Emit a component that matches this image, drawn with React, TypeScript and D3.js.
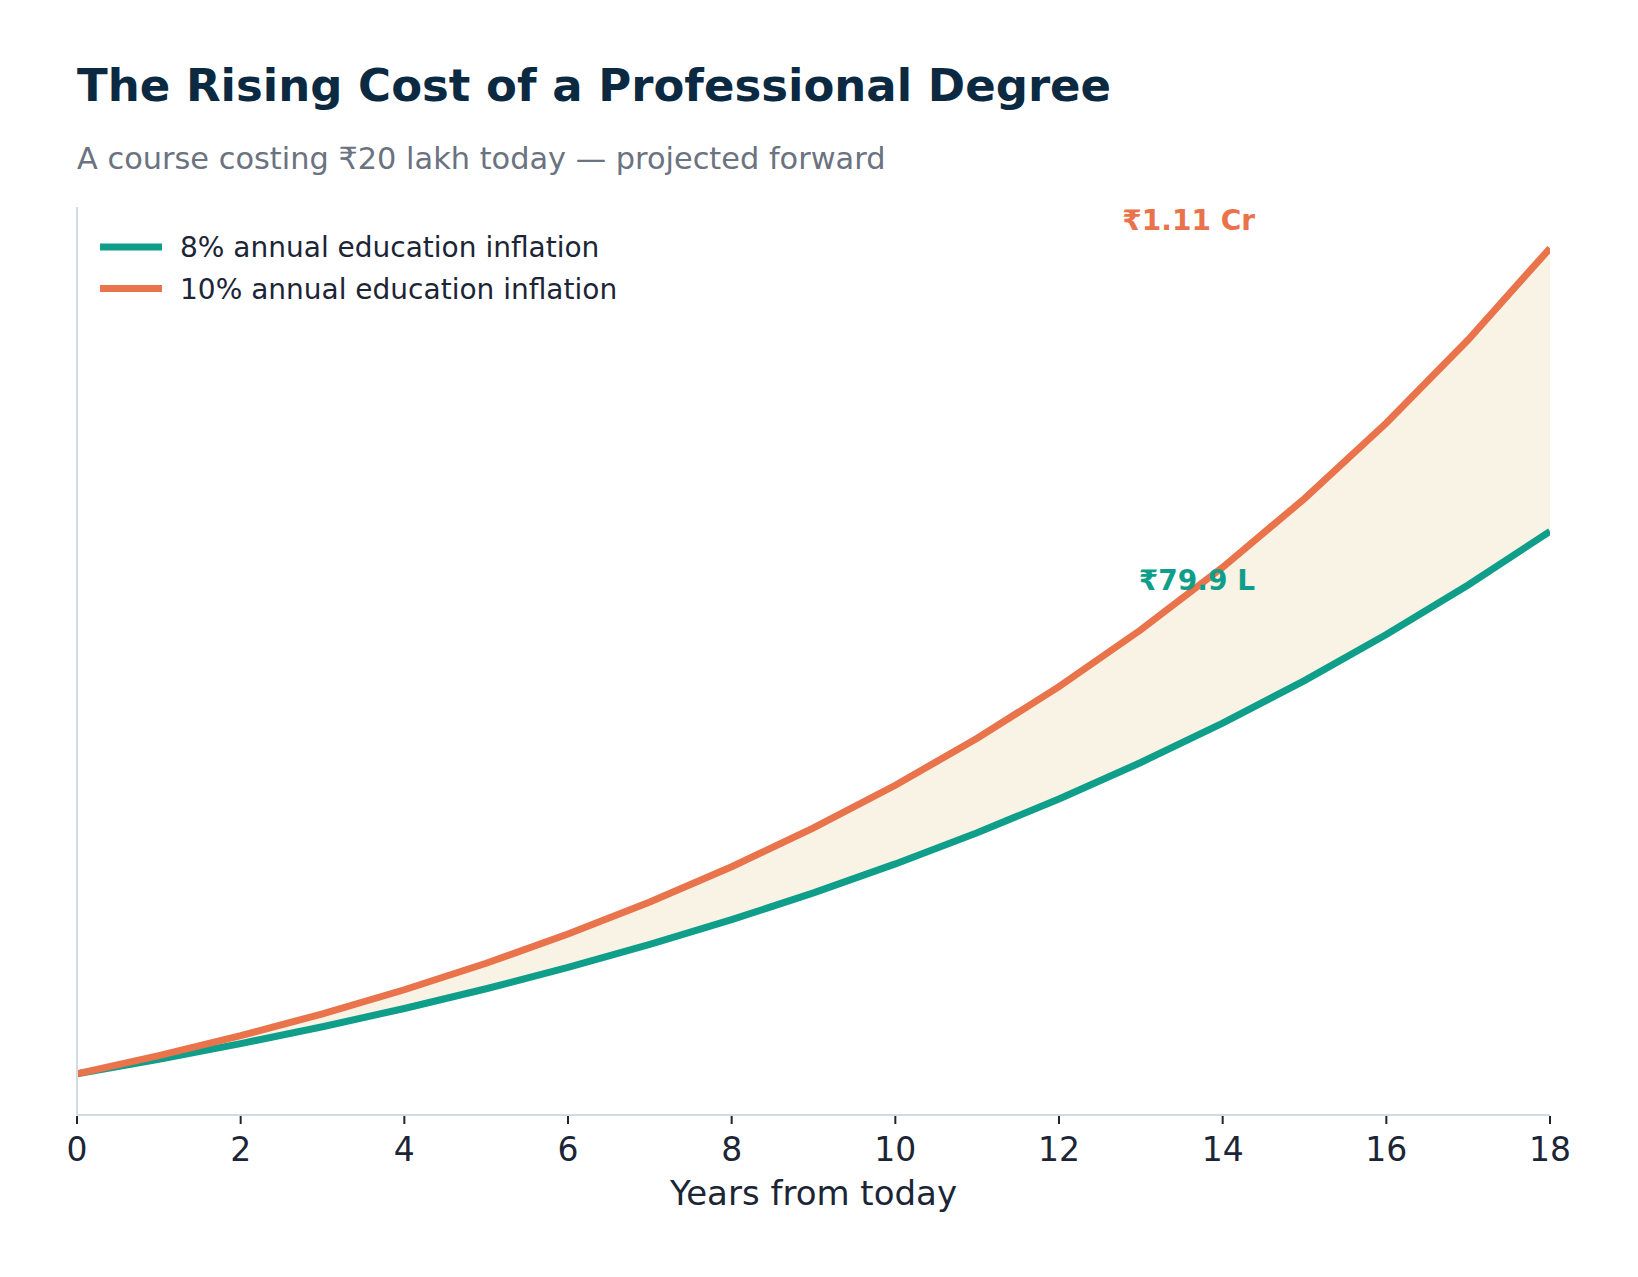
import React from "react";
import * as d3 from "d3";

// years from today
const years = [0, 1, 2, 3, 4, 5, 6, 7, 8, 9, 10, 11, 12, 13, 14, 15, 16, 17, 18];
// cost in lakh at 8% education inflation
const cost8 = [20, 21.6, 23.33, 25.19, 27.21, 29.39, 31.74, 34.28, 37.02, 39.98, 43.18, 46.63, 50.36, 54.39, 58.74, 63.44, 68.52, 74.0, 79.92];
// cost in lakh at 10% education inflation
const cost10 = [20, 22, 24.2, 26.62, 29.28, 32.21, 35.43, 38.97, 42.87, 47.16, 51.87, 57.06, 62.77, 69.05, 75.95, 83.54, 91.9, 101.09, 111.2];
const xTicks = [0, 2, 4, 6, 8, 10, 12, 14, 16, 18];
const seriesLabels = ["8% annual education inflation", "10% annual education inflation"];
const endLabels = ["₹79.9 L", "₹1.11 Cr"];

const W = 1638;
const H = 1277;
const left = 77;
const right = 1550;
const top = 207;
const bottom = 1115;

const TEAL = "#0f9e8a";
const ORANGE = "#e9734a";
const DARK = "#1c2536";
const FONT = "DejaVu Sans, sans-serif";

export default function App() {
  React.useEffect(() => {
    document.body.style.margin = "0";
  }, []);

  const lo = d3.min(cost8)!;
  const hi = d3.max(cost10)!;
  const pad = (hi - lo) * 0.05;

  const x = d3.scaleLinear().domain([0, 18]).range([left, right]);
  const y = d3.scaleLinear().domain([lo - pad, hi + pad]).range([bottom, top]);

  const rows = years.map((t, i) => ({ t, a: cost8[i], b: cost10[i] }));

  const mkLine = (key: "a" | "b") =>
    d3.line<typeof rows[0]>().x(d => x(d.t)).y(d => y(d[key]))(rows) || "";

  const band = d3
    .area<typeof rows[0]>()
    .x(d => x(d.t))
    .y0(d => y(d.a))
    .y1(d => y(d.b))(rows) || "";

  const last = years.length - 1;

  return (
    <svg width={W} height={H} style={{ display: "block", background: "#fff" }} fontFamily={FONT}>
      <defs>
        <clipPath id="plot">
          <rect x={left} y={top - 20} width={right - left} height={bottom - top + 20} />
        </clipPath>
      </defs>

      <text x={left} y={101} fontSize={45} fontWeight="bold" fill="#0b2a42">
        The Rising Cost of a Professional Degree
      </text>
      <text x={left} y={169} fontSize={30.4} fill="#6b7280">
        A course costing ₹20 lakh today — projected forward
      </text>

      {/* band + lines */}
      <g clipPath="url(#plot)">
        <path d={band} fill="#f9f3e5" />
        <path d={mkLine("a")} fill="none" stroke={TEAL} strokeWidth={7} />
        <path d={mkLine("b")} fill="none" stroke={ORANGE} strokeWidth={7} />
      </g>

      {/* spines */}
      <line x1={left} x2={left} y1={top} y2={bottom} stroke="#d3dae2" strokeWidth={2} />
      <line x1={left} x2={right} y1={bottom} y2={bottom} stroke="#d3dae2" strokeWidth={2} />

      {/* x ticks */}
      {xTicks.map(t => (
        <g key={t} transform={`translate(${x(t)},${bottom})`}>
          <line y1={1} y2={9} stroke={DARK} strokeWidth={2} />
          <text y={46} textAnchor="middle" fontSize={33} fill={DARK}>
            {t}
          </text>
        </g>
      ))}
      <text x={(left + right) / 2} y={1205} textAnchor="middle" fontSize={34} fill={DARK}>
        Years from today
      </text>

      {/* legend */}
      {[TEAL, ORANGE].map((c, i) => (
        <g key={c} transform={`translate(0,${247 + i * 41.5})`}>
          <line x1={100} x2={162} stroke={c} strokeWidth={7} />
          <text x={180} y={10} fontSize={28} fill={DARK}>
            {seriesLabels[i]}
          </text>
        </g>
      ))}

      {/* end annotations */}
      <text x={x(years[last]) - 295} y={y(cost10[last]) - 18} textAnchor="end" fontSize={28} fontWeight="bold" fill={ORANGE}>
        {endLabels[1]}
      </text>
      <text x={x(years[last]) - 295} y={y(cost8[last]) + 59} textAnchor="end" fontSize={28} fontWeight="bold" fill={TEAL}>
        {endLabels[0]}
      </text>
    </svg>
  );
}
